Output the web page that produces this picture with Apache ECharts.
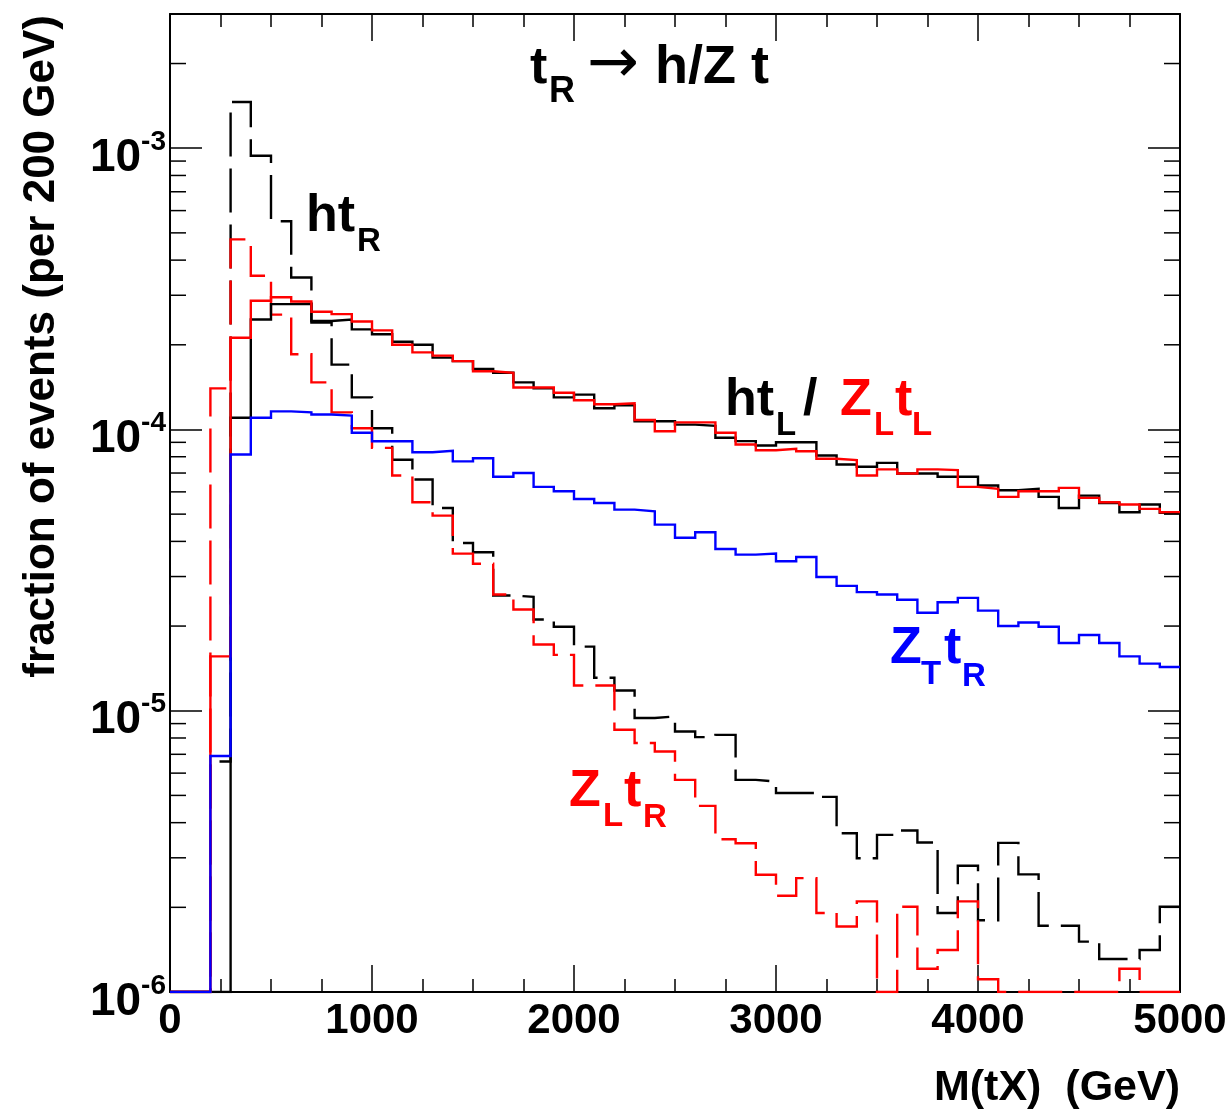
<!DOCTYPE html>
<html><head><meta charset="utf-8">
<script src="https://cdn.jsdelivr.net/npm/echarts@6/dist/echarts.min.js"></script>
<style>html,body{margin:0;padding:0;background:#fff}#c{width:1230px;height:1111px}</style>
</head><body><div id="c"></div>
<script>
// ---------------- data ----------------
// bin lower edges (GeV), 100 GeV bins, plus the last upper edge
const BIN_EDGES = [0,100,200,300,400,500,600,700,800,900,1000,1100,1200,1300,1400,1500,1600,1700,1800,1900,
  2000,2100,2200,2300,2400,2500,2600,2700,2800,2900,3000,3100,3200,3300,3400,3500,3600,3700,3800,3900,
  4000,4100,4200,4300,4400,4500,4600,4700,4800,4900,5000];
const X_TICK_LABELS = [0,1000,2000,3000,4000,5000];
const Y_DECADE_EXPONENTS = [-6,-5,-4,-3];

// black solid : h t_L
const HT_L = [0,0,0,1.10e-4,2.46e-4,2.79e-4,2.80e-4,2.43e-4,2.46e-4,2.27e-4,
  2.18e-4,2.05e-4,2.00e-4,1.80e-4,1.75e-4,1.64e-4,1.59e-4,1.47e-4,1.40e-4,1.30e-4,
  1.33e-4,1.19e-4,1.22e-4,1.07e-4,1.07e-4,1.04e-4,1.03e-4,9.34e-5,9.09e-5,8.77e-5,
  9.01e-5,9.01e-5,8.08e-5,7.51e-5,7.37e-5,7.61e-5,6.97e-5,6.97e-5,6.79e-5,6.79e-5,
  6.32e-5,6.08e-5,6.15e-5,5.76e-5,5.26e-5,5.82e-5,5.48e-5,5.08e-5,5.41e-5,5.05e-5];
// red solid : Z_L t_L
const ZL_TL = [0,0,1.56e-5,2.12e-4,2.87e-4,2.95e-4,2.85e-4,2.62e-4,2.57e-4,2.42e-4,
  2.25e-4,2.00e-4,1.88e-4,1.83e-4,1.75e-4,1.61e-4,1.59e-4,1.41e-4,1.41e-4,1.35e-4,
  1.27e-4,1.23e-4,1.24e-4,1.08e-4,9.86e-5,1.06e-4,1.06e-4,9.73e-5,8.84e-5,8.44e-5,
  8.54e-5,8.37e-5,7.87e-5,7.78e-5,6.86e-5,7.21e-5,6.97e-5,7.21e-5,7.17e-5,6.25e-5,
  6.15e-5,5.76e-5,6.03e-5,6.03e-5,6.20e-5,5.71e-5,5.51e-5,5.41e-5,5.22e-5,5.08e-5];
// blue solid : Z_T t_R
const ZT_TR = [0,0,6.9e-6,8.15e-5,1.10e-4,1.16e-4,1.15e-4,1.13e-4,1.12e-4,9.73e-5,
  9.08e-5,9.08e-5,8.30e-5,8.40e-5,7.70e-5,7.90e-5,6.79e-5,7.00e-5,6.25e-5,6.03e-5,
  5.66e-5,5.48e-5,5.19e-5,5.12e-5,4.59e-5,4.12e-5,4.31e-5,3.76e-5,3.59e-5,3.62e-5,
  3.40e-5,3.52e-5,2.99e-5,2.78e-5,2.64e-5,2.59e-5,2.48e-5,2.23e-5,2.43e-5,2.52e-5,
  2.27e-5,2.00e-5,2.06e-5,1.99e-5,1.74e-5,1.86e-5,1.74e-5,1.56e-5,1.47e-5,1.43e-5];
// black dashed : h t_R
const HT_R = [0,0,6.6e-6,1.46e-3,9.40e-4,5.50e-4,3.47e-4,2.40e-4,1.70e-4,1.30e-4,
  1.01e-4,7.80e-5,6.64e-5,5.26e-5,3.95e-5,3.66e-5,2.57e-5,2.54e-5,2.11e-5,1.99e-5,
  1.69e-5,1.31e-5,1.18e-5,9.42e-6,9.54e-6,8.44e-6,8.06e-6,8.21e-6,5.68e-6,5.60e-6,
  5.10e-6,5.10e-6,4.94e-6,3.67e-6,2.99e-6,3.62e-6,3.75e-6,3.40e-6,1.91e-6,2.81e-6,
  1.80e-6,3.39e-6,2.62e-6,1.72e-6,1.72e-6,1.51e-6,1.31e-6,1.31e-6,1.41e-6,2.01e-6];
// red dashed : Z_L t_R
const ZL_TR = [0,0,1.40e-4,4.74e-4,3.52e-4,2.56e-4,1.85e-4,1.47e-4,1.15e-4,1.01e-4,
  8.60e-5,6.86e-5,5.51e-5,4.94e-5,3.62e-5,3.33e-5,2.59e-5,2.29e-5,1.72e-5,1.58e-5,
  1.23e-5,1.23e-5,8.56e-6,7.68e-6,7.16e-6,5.68e-6,4.59e-6,3.49e-6,3.38e-6,2.61e-6,
  2.20e-6,2.54e-6,1.91e-6,1.71e-6,2.10e-6,0,2.01e-6,1.21e-6,1.41e-6,2.10e-6,
  1.11e-6,0,0,0,0,0,0,1.21e-6,0,0];

// ---------------- chart ----------------
const Y_MIN = 1e-6, Y_MAX = 3e-3;
const FONT = '"Liberation Sans", Arial, Helvetica, sans-serif';
const LW = 2.4;
const DASH = [44, 12];

function histPoints(vals){
  const f = v => (v > 0 ? v : Y_MIN);           // empty bins sit on the floor (as in ROOT)
  const pts = vals.map((v, i) => [BIN_EDGES[i], f(v)]);
  pts.push([BIN_EDGES[vals.length], f(vals[vals.length - 1])]);
  return pts;
}
function histSeries(name, vals, color, dashed){
  return {
    name, type: 'line', step: 'end', data: histPoints(vals), symbol: 'none',
    silent: true, animation: false, clip: true,
    lineStyle: { color, width: LW, type: dashed ? DASH : 'solid', cap: 'butt', join: 'miter' }
  };
}

// minor tick values for the log axis (2..9 x 10^n)
const MINOR = [];
for (let n = -6; n <= -3; n++) for (let m = 2; m <= 9; m++) { const v = m * Math.pow(10, n); if (v <= Y_MAX * 1.0001) MINOR.push([0, v]); }

const axisLineStyle = { show: true, onZero: false, lineStyle: { color: '#000', width: 2 } };

function xAx(pos, labels){
  return {
    type: 'value', position: pos, min: 0, max: 5000, interval: 1000,
    axisLine: axisLineStyle,
    axisTick: { show: true, inside: true, length: 27, lineStyle: { color: '#000', width: 1.5 } },
    minorTick: { show: true, splitNumber: 4, length: 13, lineStyle: { color: '#000', width: 1.5 } },
    splitLine: { show: false }, minorSplitLine: { show: false },
    axisLabel: labels ? {
      show: true, margin: 8, color: '#000', fontFamily: FONT, fontWeight: 'bold', fontSize: 42,
      formatter: v => (X_TICK_LABELS.indexOf(v) >= 0 ? String(v) : ''), hideOverlap: false
    } : { show: false }
  };
}
function yAx(pos, labels){
  return {
    type: 'log', logBase: 10, position: pos, min: Y_MIN, max: Y_MAX,
    axisLine: axisLineStyle,
    axisTick: { show: true, inside: true, length: 32, lineStyle: { color: '#000', width: 1.5 } },
    minorTick: { show: false }, splitLine: { show: false },
    axisLabel: labels ? {
      show: true, margin: 4, color: '#000', fontFamily: FONT, fontWeight: 'bold',
      padding: [13, 0, 0, 0],
      formatter: v => {
        const e = Math.log10(v), r = Math.round(e);
        if (Math.abs(e - r) > 1e-6 || Y_DECADE_EXPONENTS.indexOf(r) < 0) return '';
        return '{g|\u200b}{b|10}{s|' + r + '}';
      },
      rich: {
        g: { fontSize: 1, lineHeight: 53 },
        b: { fontFamily: FONT, fontWeight: 'bold', fontSize: 46, lineHeight: 46, verticalAlign: 'bottom', color: '#000' },
        s: { fontFamily: FONT, fontWeight: 'bold', fontSize: 28, lineHeight: 28, verticalAlign: 'top', color: '#000' }
      }
    } : { show: false }
  };
}

const minorTickSeries = {
  type: 'custom', xAxisIndex: 0, yAxisIndex: 0, data: MINOR, silent: true, animation: false, clip: false, z: 5,
  renderItem: (params, api) => {
    const pL = api.coord([0, api.value(1)]);
    const pR = api.coord([5000, api.value(1)]);
    const st = { stroke: '#000', lineWidth: 1.5 };
    return { type: 'group', children: [
      { type: 'line', shape: { x1: pL[0], y1: pL[1], x2: pL[0] + 16, y2: pL[1] }, style: st },
      { type: 'line', shape: { x1: pR[0] - 16, y1: pR[1], x2: pR[0], y2: pR[1] }, style: st }
    ]};
  }
};

// text helper: left x, baseline y
function T(text, x, base, size, color, opts){
  opts = opts || {};
  return { type: 'text', x, y: base - 0.35 * size, silent: true, z: 100,
    style: { text, fill: color, align: opts.align || 'left', verticalAlign: 'middle',
      font: (opts.weight || 'bold') + ' ' + size + 'px ' + (opts.family || FONT) } };
}
const BIG = 52, SUB = 33;
const graphics = [
  // title
  T('t', 530, 87, 52, '#000'),
  T('R', 549, 105, 36, '#000'),
  T('\u2192', 587, 88, 62, '#000', { weight: 'normal', family: '"DejaVu Sans", sans-serif' }),
  T('h/Z t', 655, 87, 54, '#000'),
  // ht_R
  T('ht', 306, 235, BIG, '#000'), T('R', 357, 253, SUB, '#000'),
  // ht_L / Z_L t_L
  T('ht', 725, 419, BIG, '#000'), T('L', 776, 437, SUB, '#000'),
  T('/', 803, 419, BIG, '#000'),
  T('Z', 840, 419, BIG, '#ff0000'), T('L', 874, 437, SUB, '#ff0000'),
  T('t', 895, 419, BIG, '#ff0000'), T('L', 912, 437, SUB, '#ff0000'),
  // Z_T t_R
  T('Z', 890, 667, BIG, '#0000ff'), T('T', 921, 686, SUB, '#0000ff'),
  T('t', 944, 667, BIG, '#0000ff'), T('R', 962, 688, SUB, '#0000ff'),
  // Z_L t_R
  T('Z', 569, 810, BIG, '#ff0000'), T('L', 603, 828, SUB, '#ff0000'),
  T('t', 624, 810, BIG, '#ff0000'), T('R', 643, 829, SUB, '#ff0000'),
  // x-axis title
  T('M(tX)  (GeV)', 1180, 1103, 43, '#000', { align: 'right' }),
  // y-axis title (rotated)
  { type: 'text', x: 42, y: 15, rotation: Math.PI / 2, silent: true, z: 100,
    style: { text: 'fraction of events (per 200 GeV)', fill: '#000', align: 'right', verticalAlign: 'middle',
      font: 'bold 44px ' + FONT } }
];

const chart = echarts.init(document.getElementById('c'), null, { renderer: 'canvas' });
chart.setOption({
  backgroundColor: '#fff',
  animation: false,
  grid: { left: 170, top: 14, width: 1010, height: 978, containLabel: false },
  xAxis: [xAx('bottom', true), xAx('top', false)],
  yAxis: [yAx('left', true), yAx('right', false)],
  series: [
    histSeries('ht_R', HT_R, '#000000', true),
    histSeries('Z_L t_R', ZL_TR, '#ff0000', true),
    histSeries('ht_L', HT_L, '#000000', false),
    histSeries('Z_L t_L', ZL_TL, '#ff0000', false),
    histSeries('Z_T t_R', ZT_TR, '#0000ff', false),
    minorTickSeries
  ],
  graphic: graphics
});
</script></body></html>
